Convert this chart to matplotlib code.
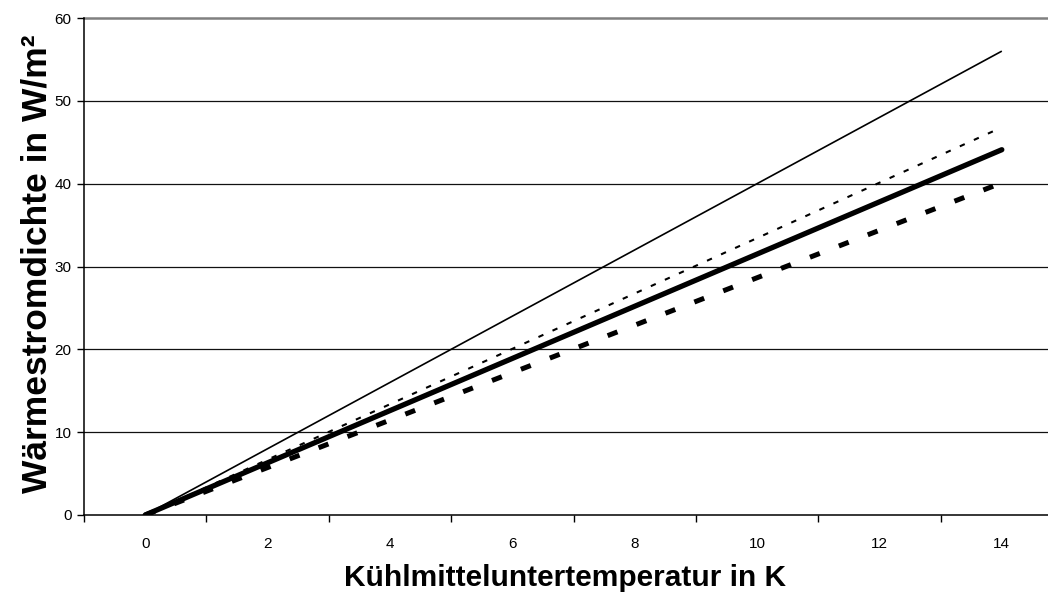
import matplotlib
matplotlib.use("Agg")
import matplotlib.pyplot as plt

plt.rcParams['font.family'] = ['Liberation Sans', 'DejaVu Sans']

# Data: Kühlmitteluntertemperatur (K) vs Wärmestromdichte (W/m²)
x_vals = [0, 14]
thin_solid = [0, 56.0]
dotted = [0, 46.8]
thick_solid = [0, 44.1]
dashed = [0, 40.1]

y_ticks = [0, 10, 20, 30, 40, 50, 60]
x_label_pos = [0, 2, 4, 6, 8, 10, 12, 14]
x_tick_marks = [-1, 1, 3, 5, 7, 9, 11, 13, 15]

fig = plt.figure(figsize=(10.48, 5.93), dpi=100)
W, H = 1048, 593
left_px, right_px, top_px, bottom_px = 84, 1063, 18, 515
ax = fig.add_axes([left_px / W, 1 - bottom_px / H,
                   (right_px - left_px) / W, (bottom_px - top_px) / H])

ax.set_xlim(-1, 15)
ax.set_ylim(0, 60)

# gridlines
for yv in y_ticks[1:-1]:
    ax.axhline(yv, color='#111111', lw=0.9, zorder=1)
ax.axhline(60, color='#808080', lw=1.8, zorder=1, clip_on=False)

ax.plot(x_vals, thin_solid, color='black', lw=1.2, solid_capstyle='butt', zorder=3)
ax.plot(x_vals, dotted, color='black', lw=1.5, dashes=(2.6, 4.8),
        dash_capstyle='butt', zorder=3)
ax.plot(x_vals, thick_solid, color='black', lw=3.8, solid_capstyle='round', zorder=3)
ax.plot(x_vals, dashed, color='black', lw=3.6, dashes=(2.1, 4.1),
        dash_capstyle='butt', zorder=4)

for s in ['top', 'right']:
    ax.spines[s].set_visible(False)
ax.spines['left'].set_linewidth(1.1)
ax.spines['bottom'].set_linewidth(1.1)
ax.spines['left'].set_zorder(5)
ax.spines['bottom'].set_zorder(5)

ax.set_yticks(y_ticks)
ax.tick_params(axis='y', direction='out', length=5, width=1, pad=4, labelsize=11)

ax.set_xticks(x_tick_marks)
ax.set_xticklabels([''] * len(x_tick_marks))
ax.set_xticks(x_label_pos, minor=True)
ax.set_xticklabels([str(v) for v in x_label_pos], minor=True)
ax.tick_params(axis='x', which='major', direction='out', length=5, width=1)
ax.tick_params(axis='x', which='minor', length=0, pad=16, labelsize=11)

fig.text(565 / W, 1 - 578 / H, 'Kühlmitteluntertemperatur in K',
         ha='center', va='center', fontsize=21.5, fontweight='bold')
fig.text(37 / W, 1 - 264 / H, 'Wärmestromdichte in W/m²',
         ha='center', va='center', fontsize=25.5, fontweight='bold', rotation=90)

fig.savefig('out.png', dpi=100)
